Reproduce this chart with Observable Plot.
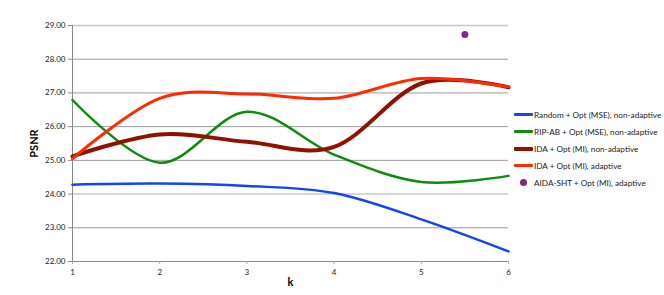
<!DOCTYPE html>
<html><head><meta charset="utf-8">
<script src="https://cdn.jsdelivr.net/npm/d3@7"></script>
<script src="https://cdn.jsdelivr.net/npm/@observablehq/plot@0.6"></script>
<style>
body{margin:0;background:#fff;}
#wrap{position:relative;width:664px;height:295px;font-family:Lato,"Liberation Sans",sans-serif;}
#legend{position:absolute;left:514px;top:106px;font-size:8.2px;color:#222;white-space:nowrap;}
.row{height:17px;display:flex;align-items:center;}
.sw{width:19px;margin-right:1px;border-radius:1px;flex:none;}
.dot{width:7px;height:7px;border-radius:50%;margin:0 7px 0 6px;flex:none;}
g[aria-label="y-axis label"] text, g[aria-label="x-axis label"] text{font-weight:bold;font-size:11px;fill:#000;}
</style>
</head><body>
<div id="wrap"><div id="legend"></div></div>
<script>
const k = [1, 2, 3, 4, 5, 6];
const random = [24.28, 24.31, 24.24, 24.03, 23.25, 22.30];
const ripab = [26.79, 24.93, 26.44, 25.17, 24.36, 24.54];
const idaNon = [25.12, 25.77, 25.55, 25.40, 27.28, 27.17];
const idaAd = [25.05, 26.84, 26.97, 26.84, 27.43, 27.18];
const aidaK = [5.5];
const aida = [28.73];
const yTicks = [22, 23, 24, 25, 26, 27, 28, 29];
const gridDark = [23, 25, 26, 27, 28];
const gridLight = [24, 29];
const seriesNames = ["Random + Opt (MSE), non-adaptive", "RIP-AB + Opt (MSE), non-adaptive", "IDA + Opt (MI), non-adaptive", "IDA + Opt (MI), adaptive", "AIDA-SHT + Opt (MI), adaptive"];
const colors = ["#1344f5", "#0d8c0d", "#8f1200", "#ff2a00", "#7b2a86"];
const widths = [2.5, 2.5, 4, 3];

const seriesVals = [random, ripab, idaNon, idaAd];
const lines = seriesVals.map((vals, i) => Plot.line(k.map((kk, j) => ({k: kk, v: vals[j]})), {
  x: "k", y: "v", stroke: colors[i], strokeWidth: widths[i], curve: "cardinal", tension: 0
}));

const chart = Plot.plot({
  width: 664, height: 295,
  marginLeft: 72, marginRight: 156, marginTop: 25, marginBottom: 34,
  style: {fontFamily: "Lato, 'Liberation Sans', sans-serif", fontSize: "8px", color: "#222", background: "#fff"},
  x: {domain: [1, 6]},
  y: {domain: [22, 29]},
  marks: [
    Plot.ruleY(gridDark, {stroke: "#9a9a9a", strokeWidth: 1}),
    Plot.ruleY(gridLight, {stroke: "#c8c8c8", strokeWidth: 1.5}),
    Plot.ruleY([22], {stroke: "#888", strokeWidth: 1}),
    Plot.ruleX([1], {stroke: "#888", strokeWidth: 1}),
    Plot.axisY({ticks: yTicks, tickFormat: d => d.toFixed(2), tickSize: 4, tickPadding: 3, stroke: "#888",
      label: "PSNR", labelAnchor: "center", labelArrow: "none", labelOffset: 42}),
    Plot.axisX({ticks: k, tickFormat: d => String(d), tickSize: 3, tickPadding: 5, stroke: "#aaa",
      label: "k", labelAnchor: "center", labelArrow: "none", labelOffset: 24}),
    ...lines,
    Plot.dot(aidaK.map((kk, j) => ({k: kk, v: aida[j]})), {x: "k", y: "v", r: 3.5, fill: colors[4], stroke: "none"})
  ]
});
document.getElementById("wrap").prepend(chart);

const legend = document.getElementById("legend");
seriesNames.forEach((name, i) => {
  const row = document.createElement("div");
  row.className = "row";
  const sw = document.createElement("div");
  if (i < 4) { sw.className = "sw"; sw.style.height = (i === 2 ? 4 : 3) + "px"; sw.style.background = colors[i]; }
  else { sw.className = "dot"; sw.style.background = colors[i]; }
  row.appendChild(sw);
  const t = document.createElement("span");
  t.textContent = name;
  row.appendChild(t);
  legend.appendChild(row);
});
</script>
</body></html>
